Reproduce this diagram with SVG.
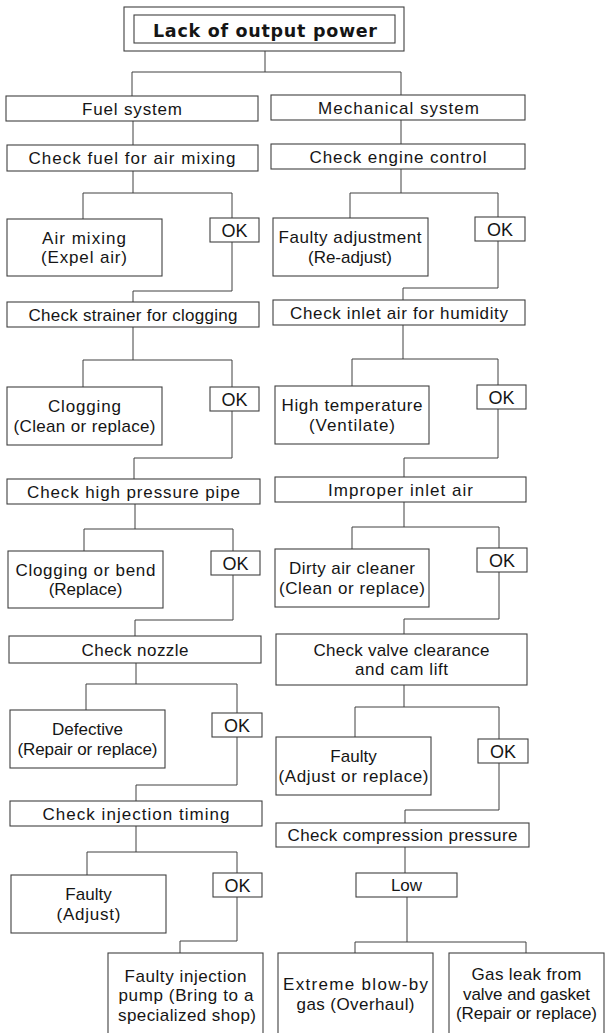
<svg xmlns="http://www.w3.org/2000/svg" width="605" height="1033" viewBox="0 0 605 1033">
<style>
.b{fill:#fff;stroke:#404040;stroke-width:1.1}
.c{fill:none;stroke:#404040;stroke-width:1}
text{font-family:"Liberation Sans",Arial,sans-serif;font-size:17px;fill:#151515;text-anchor:middle}
.t{font-family:"DejaVu Sans","Liberation Sans",sans-serif;font-weight:bold;font-size:17.5px}
.k{font-size:18px}
</style>
<rect width="605" height="1033" fill="#fff"/>
<g id="connectors">
<path class="c" d="M265,51V72M132,96V72H401V95"/>
<path class="c" d="M133,121V145M133,171V193M83,219V193H232V218M232,242V291H133V302"/>
<path class="c" d="M133,327V360M83,387V360H232V387M232,411V458H134V479"/>
<path class="c" d="M135,504V529M84,551V529H233V551M233,575V620H135V636"/>
<path class="c" d="M136,663V684M86,710V684H237V713M237,737V785H136V801"/>
<path class="c" d="M136,826V852M87,875V852H237V873M237,897V941H180V953"/>
<path class="c" d="M401,120V144M401,169V193M350,218V193H498V217M498,241V288H403V300"/>
<path class="c" d="M403,325V359M352,386V359H498V385M498,409V458H404V477"/>
<path class="c" d="M404,502V527M352,549V527H499V548M499,572V619H404V634"/>
<path class="c" d="M404,685V707M355,737V707H499V739M499,763V810H405V823"/>
<path class="c" d="M405,847V873M407,897V942M355,953V942H526V953"/>
</g>
<g id="title"><rect class="b" x="124" y="7" width="280" height="44"/><rect class="b" x="134" y="15" width="261" height="28"/><text class="t" x="265" y="37" textLength="224" lengthAdjust="spacing">Lack of output power</text></g>
<g id="fuel-system"><rect class="b" x="6" y="96" width="252" height="25"/><text x="132" y="114.5" textLength="100" lengthAdjust="spacing">Fuel system</text></g>
<g id="mechanical-system"><rect class="b" x="271" y="95" width="254" height="25"/><text x="398.5" y="113.5" textLength="161" lengthAdjust="spacing">Mechanical system</text></g>
<g id="check-fuel"><rect class="b" x="7" y="145" width="251" height="26"/><text x="132" y="164" textLength="207" lengthAdjust="spacing">Check fuel for air mixing</text></g>
<g id="check-engine"><rect class="b" x="271" y="144" width="254" height="25"/><text x="398" y="162.5" textLength="177" lengthAdjust="spacing">Check engine control</text></g>
<g id="air-mixing"><rect class="b" x="7" y="219" width="155" height="57"/><text x="84" y="243.5" textLength="84" lengthAdjust="spacing">Air mixing</text><text x="84" y="263" textLength="86" lengthAdjust="spacing">(Expel air)</text></g>
<g id="ok-l1"><rect class="b" x="210" y="218" width="49" height="24"/><text class="k" x="234.5" y="236.5">OK</text></g>
<g id="faulty-adjustment"><rect class="b" x="273" y="218" width="155" height="58"/><text x="350" y="243" textLength="143" lengthAdjust="spacing">Faulty adjustment</text><text x="350" y="262.5" textLength="84" lengthAdjust="spacing">(Re-adjust)</text></g>
<g id="ok-r1"><rect class="b" x="475" y="217" width="50" height="24"/><text class="k" x="500" y="235.5">OK</text></g>
<g id="check-strainer"><rect class="b" x="7" y="302" width="252" height="25"/><text x="133" y="320.5" textLength="209" lengthAdjust="spacing">Check strainer for clogging</text></g>
<g id="check-inlet-air"><rect class="b" x="273" y="300" width="252" height="25"/><text x="399" y="318.5" textLength="218" lengthAdjust="spacing">Check inlet air for humidity</text></g>
<g id="clogging"><rect class="b" x="7" y="387" width="155" height="58"/><text x="84.5" y="412" textLength="73" lengthAdjust="spacing">Clogging</text><text x="84.5" y="431.5" textLength="142" lengthAdjust="spacing">(Clean or replace)</text></g>
<g id="ok-l2"><rect class="b" x="210" y="387" width="49" height="24"/><text class="k" x="234.5" y="405.5">OK</text></g>
<g id="high-temperature"><rect class="b" x="275" y="386" width="154" height="58"/><text x="352" y="411" textLength="141" lengthAdjust="spacing">High temperature</text><text x="352" y="430.5" textLength="86" lengthAdjust="spacing">(Ventilate)</text></g>
<g id="ok-r2"><rect class="b" x="477" y="385" width="49" height="24"/><text class="k" x="501.5" y="403.5">OK</text></g>
<g id="check-hp-pipe"><rect class="b" x="7" y="479" width="253" height="25"/><text x="133.5" y="497.5" textLength="213" lengthAdjust="spacing">Check high pressure pipe</text></g>
<g id="improper-inlet-air"><rect class="b" x="275" y="477" width="251" height="25"/><text x="400.5" y="495.5" textLength="145" lengthAdjust="spacing">Improper inlet air</text></g>
<g id="clogging-bend"><rect class="b" x="8" y="551" width="155" height="57"/><text x="85.5" y="575.5" textLength="140" lengthAdjust="spacing">Clogging or bend</text><text x="85.5" y="595">(Replace)</text></g>
<g id="ok-l3"><rect class="b" x="211" y="551" width="49" height="24"/><text class="k" x="235.5" y="569.5">OK</text></g>
<g id="dirty-air-cleaner"><rect class="b" x="275" y="549" width="154" height="58"/><text x="352" y="574" textLength="126" lengthAdjust="spacing">Dirty air cleaner</text><text x="352" y="593.5" textLength="146" lengthAdjust="spacing">(Clean or replace)</text></g>
<g id="ok-r3"><rect class="b" x="477" y="548" width="50" height="24"/><text class="k" x="502" y="566.5">OK</text></g>
<g id="check-nozzle"><rect class="b" x="9" y="636" width="252" height="27"/><text x="135" y="655.5" textLength="107" lengthAdjust="spacing">Check nozzle</text></g>
<g id="check-valve"><rect class="b" x="276" y="634" width="251" height="51"/><text x="401.5" y="655.5" textLength="176" lengthAdjust="spacing">Check valve clearance</text><text x="401.5" y="675" textLength="93" lengthAdjust="spacing">and cam lift</text></g>
<g id="defective"><rect class="b" x="10" y="710" width="155" height="58"/><text x="87.5" y="735">Defective</text><text x="87.5" y="754.5" textLength="140" lengthAdjust="spacing">(Repair or replace)</text></g>
<g id="ok-l4"><rect class="b" x="212" y="713" width="50" height="24"/><text class="k" x="237" y="731.5">OK</text></g>
<g id="faulty-valve"><rect class="b" x="276" y="737" width="155" height="58"/><text x="353.5" y="762">Faulty</text><text x="353.5" y="781.5" textLength="150" lengthAdjust="spacing">(Adjust or replace)</text></g>
<g id="ok-r4"><rect class="b" x="478" y="739" width="50" height="24"/><text class="k" x="503" y="757.5">OK</text></g>
<g id="check-injection-timing"><rect class="b" x="10" y="801" width="252" height="25"/><text x="136" y="819.5" textLength="187" lengthAdjust="spacing">Check injection timing</text></g>
<g id="check-compression"><rect class="b" x="276" y="823" width="253" height="24"/><text x="402.5" y="841" textLength="230" lengthAdjust="spacing">Check compression pressure</text></g>
<g id="faulty-adjust"><rect class="b" x="11" y="875" width="155" height="58"/><text x="88.5" y="900">Faulty</text><text x="88.5" y="919.5" textLength="64" lengthAdjust="spacing">(Adjust)</text></g>
<g id="ok-l5"><rect class="b" x="213" y="873" width="49" height="24"/><text class="k" x="237.5" y="891.5">OK</text></g>
<g id="low"><rect class="b" x="356" y="873" width="101" height="24"/><text x="406.5" y="891">Low</text></g>
<g id="faulty-injection-pump"><rect class="b" x="108" y="953" width="155" height="100"/><text x="185.5" y="981.5" textLength="122" lengthAdjust="spacing">Faulty injection</text><text x="186" y="1001" textLength="135" lengthAdjust="spacing">pump (Bring to a</text><text x="187" y="1020.5" textLength="138" lengthAdjust="spacing">specialized shop)</text></g>
<g id="blow-by"><rect class="b" x="278" y="953" width="155" height="100"/><text x="355.5" y="990" textLength="145" lengthAdjust="spacing">Extreme blow-by</text><text x="355.5" y="1009.5" textLength="118" lengthAdjust="spacing">gas (Overhaul)</text></g>
<g id="gas-leak"><rect class="b" x="449" y="953" width="155" height="100"/><text x="526.5" y="980" textLength="110" lengthAdjust="spacing">Gas leak from</text><text x="526.5" y="999.5" textLength="127" lengthAdjust="spacing">valve and gasket</text><text x="526.5" y="1019" textLength="141" lengthAdjust="spacing">(Repair or replace)</text></g>
</svg>
